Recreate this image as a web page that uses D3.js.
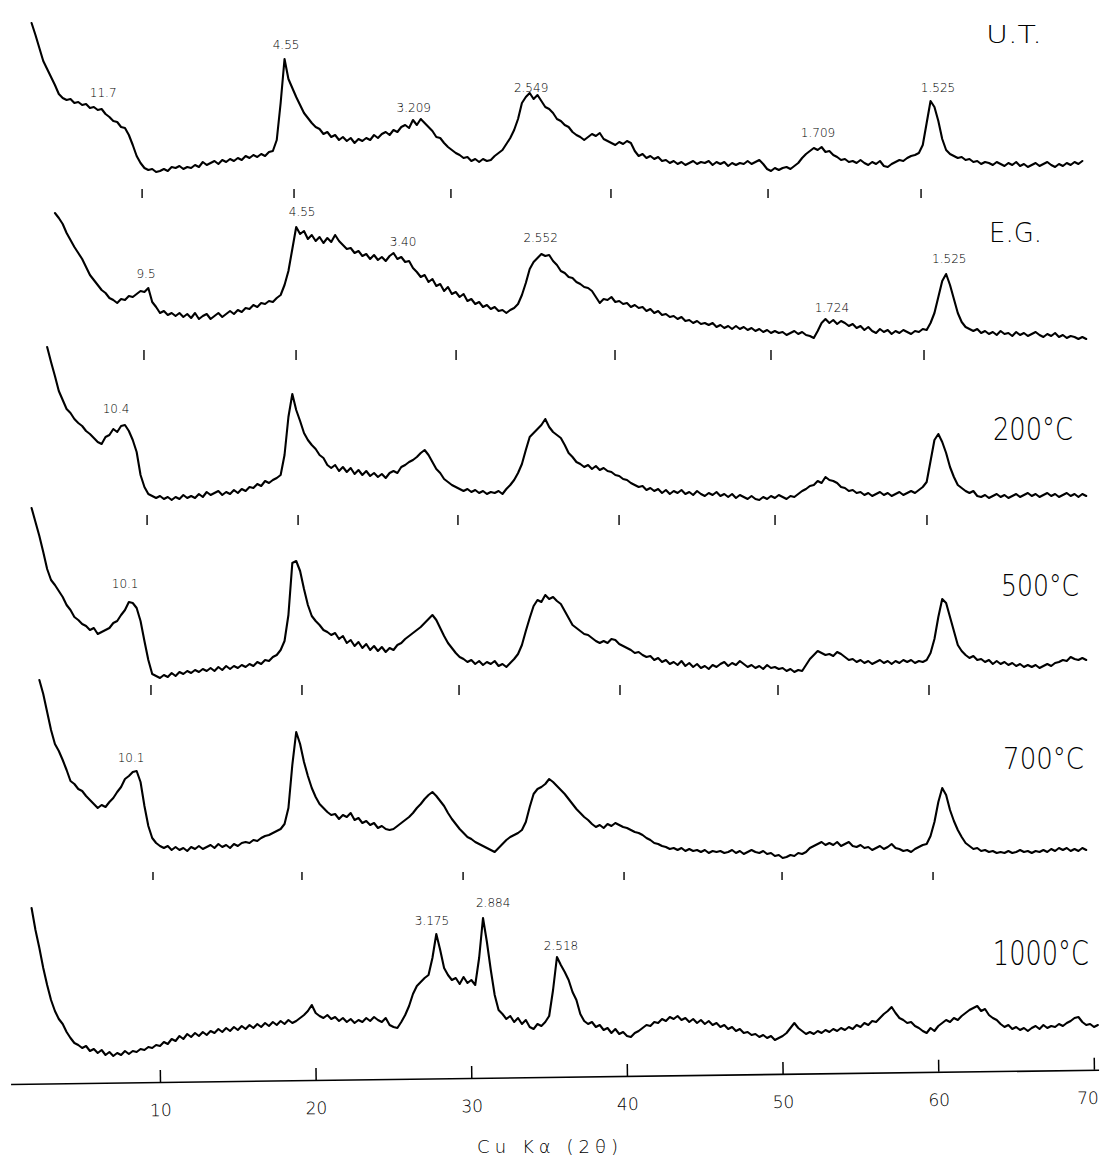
<!DOCTYPE html>
<html><head><meta charset="utf-8">
<script src="https://cdn.jsdelivr.net/npm/d3@7"></script>
<style>body{margin:0;background:#fff}svg{display:block}</style>
</head><body>
<svg id="chart" width="1101" height="1159"></svg>
<script>
// ---------------- DATA ----------------
const seriesNames = ["U.T.", "E.G.", "200°C", "500°C", "700°C", "1000°C"];
const twoThetaStep = 0.25;                       // degrees 2θ between readings
const seriesStart = [1.75, 3.25, 2.75, 1.75, 2.25, 1.75]; // first 2θ of each trace
const seriesOffsets = [905, 735, 575, 407, 220, 40];      // stacking offset (a.u.)

const utValues = [
/*1.75*/142,
/*2*/130,117,104,96, /*3*/88,80,71,67, /*4*/65,66,62,63, /*5*/60,61,57,58,
/*6*/55,56,51,48, /*7*/44,43,38,37, /*8*/30,20,9,2, /*9*/-3,-5,-4,-7,
/*10*/-6,-4,-6,-2, /*11*/-3,-1,-4,-2, /*12*/-3,0,-2,3, /*13*/0,2,4,1,
/*14*/5,3,6,4, /*15*/7,5,9,7, /*16*/10,8,11,9, /*17*/13,14,25,62,
/*18*/106,86,77,68, /*19*/60,52,47,42, /*20*/38,36,31,33, /*21*/28,30,25,28,
/*22*/24,27,22,26, /*23*/24,27,25,30, /*24*/27,31,33,30, /*25*/35,33,38,40,
/*26*/37,45,40,46, /*27*/42,38,34,28, /*28*/27,22,18,15, /*29*/12,10,7,8,
/*30*/4,6,3,6, /*31*/4,5,9,12, /*32*/15,21,27,35, /*33*/46,62,68,72,
/*34*/66,70,64,58, /*35*/56,52,46,44, /*36*/40,38,33,30, /*37*/28,25,28,31,
/*38*/29,32,26,24, /*39*/22,20,23,21, /*40*/24,22,14,9, /*41*/11,7,9,6,
/*42*/8,4,5,2, /*43*/4,1,3,0, /*44*/2,4,1,3, /*45*/2,4,0,3,
/*46*/1,3,-1,2, /*47*/0,2,1,4, /*48*/1,3,5,1, /*49*/-4,-6,-3,-5,
/*50*/-3,-2,-4,-1, /*51*/2,7,11,14, /*52*/17,15,18,13, /*53*/14,10,8,5,
/*54*/6,3,4,2, /*55*/5,2,0,3, /*56*/1,4,-1,-2, /*57*/1,3,5,4,
/*58*/7,9,10,12, /*59*/20,42,64,58, /*60*/44,26,15,11, /*61*/9,7,8,5,
/*62*/6,3,4,1, /*63*/3,2,0,3, /*64*/1,-1,2,0, /*65*/3,-1,1,-2,
/*66*/0,2,-1,1, /*67*/3,0,-2,1, /*68*/-1,2,0,3, /*69*/1,4
];

const egValues = [
/*3.25*/122,117,111,
/*4*/102,95,88,82, /*5*/76,68,60,55, /*6*/50,45,42,37, /*7*/35,32,36,35,
/*8*/39,38,41,44, /*9*/43,47,33,28, /*10*/22,24,20,22, /*11*/19,22,18,21,
/*12*/17,22,16,19, /*13*/21,16,19,22, /*14*/18,21,24,21, /*15*/25,23,27,26,
/*16*/30,28,32,31, /*17*/34,33,37,40, /*18*/50,64,86,108, /*19*/101,104,96,100,
/*20*/94,98,92,97, /*21*/93,100,94,90, /*22*/86,87,82,84, /*23*/79,81,76,80,
/*24*/75,78,74,79, /*25*/82,76,78,73, /*26*/74,67,63,58, /*27*/60,53,56,49,
/*28*/51,44,48,41, /*29*/43,38,41,34, /*30*/36,31,33,28, /*31*/30,26,28,24,
/*32*/25,22,25,27, /*33*/31,40,52,66, /*34*/73,77,81,79, /*35*/80,74,70,64,
/*36*/62,58,57,53, /*37*/51,48,47,44, /*38*/38,32,36,35, /*39*/38,33,34,31,
/*40*/32,28,30,27, /*41*/28,24,26,22, /*42*/24,20,21,18, /*43*/19,16,18,14,
/*44*/15,12,14,11, /*45*/12,10,12,8, /*46*/10,7,9,6, /*47*/9,6,8,5,
/*48*/7,4,6,3, /*49*/5,2,4,2, /*50*/3,0,2,4, /*51*/1,3,0,-1,
/*52*/-3,4,12,16, /*53*/12,15,11,14, /*54*/12,9,11,7, /*55*/9,5,8,4,
/*56*/2,6,3,5, /*57*/1,4,2,5, /*58*/3,1,4,3, /*59*/6,5,12,22,
/*60*/38,54,61,50, /*61*/36,22,13,8, /*62*/6,4,6,2, /*63*/4,1,3,0,
/*64*/4,1,2,-1, /*65*/3,0,2,-1, /*66*/1,3,0,-2, /*67*/1,-1,2,-2,
/*68*/0,-3,-1,-2, /*69*/-4,-2,-4
];

const t200Values = [
/*2.75*/148,
/*3*/133,119,104,95, /*4*/86,82,76,72, /*5*/69,64,61,57, /*6*/53,51,58,60,
/*7*/66,63,69,70, /*8*/64,55,43,20, /*9*/8,1,-1,-3, /*10*/-1,-4,-2,-5,
/*11*/-2,-4,0,-3, /*12*/-1,-3,1,-2, /*13*/3,0,2,4, /*14*/0,3,1,5,
/*15*/2,6,4,8, /*16*/7,11,9,14, /*17*/12,15,17,20, /*18*/40,78,101,85,
/*19*/74,62,55,50, /*20*/46,40,37,30, /*21*/27,30,24,28, /*22*/23,27,21,25,
/*23*/20,24,19,22, /*24*/18,21,17,22, /*25*/24,22,28,30, /*26*/33,35,38,42,
/*27*/45,40,33,26, /*28*/22,16,13,10, /*29*/8,6,4,6, /*30*/3,5,2,4,
/*31*/1,3,2,4, /*32*/1,6,10,15, /*33*/22,31,45,58, /*34*/62,66,70,76,
/*35*/68,63,60,57, /*36*/50,42,38,33, /*37*/31,28,30,26, /*38*/29,25,27,24,
/*39*/23,20,19,16, /*40*/15,12,10,8, /*41*/9,5,7,4, /*42*/6,2,5,1,
/*43*/4,2,5,1, /*44*/3,0,4,1, /*45*/-1,2,0,3, /*46*/-1,1,-2,1,
/*47*/-3,0,-2,-4, /*48*/-1,-4,-5,-2, /*49*/-4,-1,-3,0, /*50*/-2,-4,-1,-2,
/*51*/1,4,6,9, /*52*/10,14,12,18, /*53*/15,14,12,8, /*54*/7,4,5,2,
/*55*/3,0,2,-1, /*56*/1,3,0,2, /*57*/-1,1,3,0, /*58*/2,4,2,5,
/*59*/8,13,34,55, /*60*/61,53,42,28, /*61*/18,10,7,4, /*62*/2,4,-1,-2,
/*63*/0,-3,-1,1, /*64*/-2,0,-3,-1, /*65*/1,-2,0,2, /*66*/-1,1,-2,0,
/*67*/2,-1,1,-2, /*68*/0,2,-1,1, /*69*/-2,1,-1
];

const t500Values = [
/*1.75*/155,
/*2*/141,127,111,94, /*3*/83,78,72,66, /*4*/58,53,46,43, /*5*/39,37,33,35,
/*6*/29,31,33,35, /*7*/40,42,48,53, /*8*/61,60,55,42, /*9*/22,3,-11,-13,
/*10*/-15,-12,-14,-10, /*11*/-13,-9,-11,-8, /*12*/-10,-7,-9,-6, /*13*/-8,-5,-8,-4,
/*14*/-7,-3,-6,-3, /*15*/-5,-2,-4,-1, /*16*/-3,1,-1,3, /*17*/2,6,8,13,
/*18*/22,48,100,102, /*19*/92,74,58,47, /*20*/42,38,33,31, /*21*/28,30,24,27,
/*22*/20,23,17,21, /*23*/15,19,13,17, /*24*/12,16,11,15, /*25*/13,18,20,24,
/*26*/27,30,33,36, /*27*/40,44,48,43, /*28*/35,27,20,15, /*29*/10,6,4,1,
/*30*/3,-1,2,-2, /*31*/1,-1,2,-3, /*32*/-1,-4,0,4, /*33*/9,18,32,45,
/*34*/57,63,61,68, /*35*/64,66,62,59, /*36*/52,45,38,35, /*37*/32,29,28,25,
/*38*/22,20,22,20, /*39*/24,23,19,17, /*40*/15,13,10,11, /*41*/8,6,7,3,
/*42*/5,1,3,-1, /*43*/1,-2,2,-3, /*44*/0,-4,-1,-5, /*45*/-3,-6,-2,-4,
/*46*/-1,1,-3,0, /*47*/-2,2,-1,-4, /*48*/-2,-5,-3,-6, /*49*/-2,-5,-4,-6,
/*50*/-5,-8,-6,-9, /*51*/-7,-8,-2,4, /*52*/8,12,10,8, /*53*/9,7,11,9,
/*54*/6,3,4,1, /*55*/3,0,2,-1, /*56*/1,3,0,2, /*57*/-1,2,0,3,
/*58*/1,3,0,2, /*59*/1,3,10,24, /*60*/46,64,60,46, /*61*/32,18,12,8,
/*62*/5,7,3,4, /*63*/1,3,-1,2, /*64*/-1,1,-2,0, /*65*/-3,-1,-4,-2,
/*66*/-4,-2,-5,-3, /*67*/-1,-3,0,1, /*68*/3,2,6,4, /*69*/3,5,3
];

const t700Values = [
/*2.25*/170,156,138,
/*3*/120,106,99,90, /*4*/80,69,66,61, /*5*/59,54,50,46, /*6*/42,45,43,48,
/*7*/52,58,63,71, /*8*/74,78,79,68, /*9*/44,24,12,7, /*10*/4,2,4,0,
/*11*/3,0,2,-1, /*12*/3,1,4,1, /*13*/3,5,2,6, /*14*/3,5,2,6,
/*15*/4,7,8,7, /*16*/10,9,12,14, /*17*/15,17,19,21, /*18*/26,42,85,118,
/*19*/106,88,74,62, /*20*/53,46,42,38, /*21*/35,36,31,35, /*22*/33,37,30,32,
/*23*/27,29,25,27, /*24*/22,24,21,20, /*25*/21,24,27,30, /*26*/33,37,42,46,
/*27*/51,55,58,54, /*28*/49,44,37,31, /*29*/26,21,17,13, /*30*/11,8,6,4,
/*31*/2,0,-2,2, /*32*/6,10,13,15, /*33*/17,20,28,43, /*34*/56,61,63,66,
/*35*/71,68,64,60, /*36*/56,51,46,41, /*37*/37,33,30,26, /*38*/23,25,22,26,
/*39*/24,27,25,23, /*40*/22,20,18,17, /*41*/15,12,10,7, /*42*/6,4,3,1,
/*43*/2,0,2,-1, /*44*/1,-1,0,-2, /*45*/0,-3,-1,-2, /*46*/-1,-3,-2,0,
/*47*/-3,-1,-4,-2, /*48*/0,-2,-3,-1, /*49*/-4,-3,-6,-5, /*50*/-8,-7,-5,-6,
/*51*/-3,-4,-2,2, /*52*/4,6,8,5, /*53*/7,5,8,4, /*54*/6,8,4,3,
/*55*/5,2,3,0, /*56*/2,4,1,3, /*57*/6,2,1,-1, /*58*/0,-2,1,3,
/*59*/5,6,14,28, /*60*/48,62,55,40, /*61*/29,20,13,7, /*62*/4,1,2,-1,
/*63*/0,-2,-1,-3, /*64*/-2,-3,-1,-3, /*65*/-2,0,-2,-1, /*66*/-3,-1,-2,0,
/*67*/-2,1,-1,2, /*68*/0,2,-1,1, /*69*/-1,2,0
];

const t1000Values = [
/*1.75*/122,
/*2*/100,82,62,45, /*3*/30,19,11,6, /*4*/-2,-8,-13,-15, /*5*/-18,-16,-21,-19,
/*6*/-23,-20,-25,-22, /*7*/-26,-23,-25,-21, /*8*/-24,-21,-22,-19, /*9*/-20,-17,-18,-15,
/*10*/-16,-12,-14,-9, /*11*/-11,-6,-9,-4, /*12*/-7,-3,-6,-2, /*13*/-5,-1,-3,1,
/*14*/-2,2,-1,3, /*15*/0,4,1,5, /*16*/2,6,3,7, /*17*/4,8,5,9,
/*18*/6,10,7,9, /*19*/12,15,19,25, /*20*/17,14,12,15, /*21*/11,13,9,12,
/*22*/8,11,7,10, /*23*/8,12,9,13, /*24*/10,8,12,5, /*25*/3,2,8,15,
/*26*/24,36,44,48, /*27*/52,55,72,96, /*28*/80,62,55,50, /*29*/52,46,53,47,
/*30*/50,45,72,112, /*31*/88,60,35,20, /*32*/16,11,14,8, /*33*/12,6,10,3,
/*34*/1,6,4,8, /*35*/14,40,73,65, /*36*/58,50,38,30, /*37*/16,9,6,8,
/*38*/3,5,0,2, /*39*/-3,1,-4,-2, /*40*/-6,-7,-3,-1, /*41*/2,5,4,8,
/*42*/7,11,9,13, /*43*/11,14,10,12, /*44*/8,11,7,10, /*45*/6,9,5,7,
/*46*/3,5,1,3, /*47*/-1,1,-3,-2, /*48*/-5,-4,-7,-5, /*49*/-8,-6,-10,-8,
/*50*/-6,-3,2,7, /*51*/2,-1,-4,-2, /*52*/-4,-1,-3,0, /*53*/-2,1,-1,2,
/*54*/0,3,1,5, /*55*/3,7,5,9, /*56*/8,12,16,19, /*57*/23,17,12,10,
/*58*/7,8,4,2, /*59*/-1,-3,2,-1, /*60*/4,7,10,8, /*61*/12,10,14,17,
/*62*/20,22,24,19, /*63*/21,15,12,10, /*64*/6,3,5,1, /*65*/3,0,2,-1,
/*66*/2,4,1,5, /*67*/2,4,3,6, /*68*/4,7,9,12, /*69*/13,8,5,6,
/*70*/3,5
];

// chart-recorder marks under each trace (2θ as read on the common axis)
const traceTickMarks = [
  [8.85, 18.61, 28.69, 38.97, 49.06, 58.89],
  [8.97, 18.74, 29.02, 39.23, 49.25, 59.08],
  [9.17, 18.87, 29.14, 39.49, 49.51, 59.27],
  [9.42, 19.12, 29.21, 39.55, 49.70, 59.40],
  [9.55, 19.12, 29.47, 39.81, 49.96, 59.66],
  []
];
const traceTickLevels = [[-24, -33], [-15, -25], [-20, -30], [-22, -32], [-22, -30], [0, 0]];

// d-spacing labels (Å): trace index, text, 2θ, intensity level of label baseline
const peakLabelSeries = [0, 0, 0, 0, 0, 0, 1, 1, 1, 1, 1, 1, 2, 3, 4, 5, 5, 5];
const peakLabelTexts = ["11.7", "4.55", "3.209", "2.549", "1.709", "1.525",
                        "9.5", "4.55", "3.40", "2.552", "1.724", "1.525",
                        "10.4", "10.1", "10.1", "3.175", "2.884", "2.518"];
const peakLabelTheta = [6.35, 18.1, 26.3, 33.84, 52.27, 59.98,
                        9.1, 19.13, 25.61, 34.45, 53.16, 60.7,
                        7.18, 7.76, 8.14, 27.47, 31.4, 35.76];
const peakLabelLevel = [68, 116, 53, 73, 28, 73,
                        57, 119, 89, 93, 23, 72,
                        82, 75, 88, 105, 123, 80];

// series name placement (left 2θ, baseline level), size and drawn width
const seriesLabelTheta = [63.06, 63.26, 63.51, 64.03, 64.16, 63.5];
const seriesLabelLevel = [122, 93, 55, 67, 81, 65];
const seriesLabelSize = [25, 26, 32, 31, 31, 34];
const seriesLabelWidth = [56, 53, 80, 78, 81, 96];

const axisTicks = [10, 20, 30, 40, 50, 60, 70];
const axisTitle = "Cu Kα (2θ)";

// ---------------- CHART ----------------
const svg = d3.select("#chart");
svg.append("rect").attr("width", 1101).attr("height", 1159).attr("fill", "#fff");

const x = d3.scaleLinear().domain([10, 70]).range([160, 1094]);
const y = d3.scaleLinear().domain([0, 1000]).range([1070, 70]);

const allValues = [utValues, egValues, t200Values, t500Values, t700Values, t1000Values];
const series = seriesNames.map((name, k) => ({
  name, start: seriesStart[k], offset: seriesOffsets[k], values: allValues[k],
  ticks: traceTickMarks[k], tickLevel: traceTickLevels[k]
}));

const line = d3.line().x(d => x(d[0])).y(d => y(d[1]));
const FONT = "'DejaVu Sans', 'Liberation Sans', sans-serif";

const traces = svg.append("g");
series.forEach(s => {
  const pts = s.values.map((v, i) => [s.start + i * twoThetaStep, s.offset + v]);
  traces.append("path")
    .attr("d", line(pts))
    .attr("fill", "none")
    .attr("stroke", "#000")
    .attr("stroke-width", 2.1)
    .attr("stroke-linejoin", "round")
    .attr("stroke-linecap", "round");
  traces.selectAll(null).data(s.ticks).enter().append("line")
    .attr("x1", d => x(d)).attr("x2", d => x(d))
    .attr("y1", y(s.offset + s.tickLevel[0]))
    .attr("y2", y(s.offset + s.tickLevel[1]))
    .attr("stroke", "#000").attr("stroke-width", 1.4);
});

// peak labels
svg.append("g").selectAll("text").data(peakLabelTexts).enter().append("text")
  .attr("x", (d, i) => x(peakLabelTheta[i]))
  .attr("y", (d, i) => y(seriesOffsets[peakLabelSeries[i]] + peakLabelLevel[i]))
  .attr("text-anchor", "middle")
  .attr("font-family", FONT)
  .attr("font-stretch", "condensed")
  .attr("font-weight", 300)
  .attr("font-size", 12)
  .attr("fill", "#000")
  .text(d => d);

// series names: scaled horizontally to the width they occupy on the chart
const nameGroups = svg.append("g").selectAll("g").data(seriesNames).enter().append("g")
  .attr("transform", (d, i) => `translate(${x(seriesLabelTheta[i])},${y(seriesOffsets[i] + seriesLabelLevel[i])})`);
nameGroups.append("text")
  .attr("font-family", FONT)
  .attr("font-stretch", "condensed")
  .attr("font-weight", 200)
  .attr("font-size", (d, i) => seriesLabelSize[i])
  .attr("fill", "#000")
  .text(d => d)
  .each(function (d, i) {
    const w = this.getComputedTextLength();
    if (w > 0) d3.select(this).attr("transform", `scale(${seriesLabelWidth[i] / w},1)`);
  });

// bottom axis (slightly tilted, like the recorder chart)
const axisScale = d3.scaleLinear().domain([0.4, 70.3]).range([x(0.4), x(70.3)]);
const axisY = 1084;
const axis = d3.axisBottom(axisScale)
  .tickValues(axisTicks)
  .tickSizeInner(-12)
  .tickSizeOuter(0)
  .tickPadding(22)
  .tickFormat(d3.format("d"));
const gAxis = svg.append("g")
  .attr("transform", `translate(0,${axisY}) rotate(-0.75,${x(0.4)},0)`)
  .call(axis);
gAxis.select(".domain").attr("stroke", "#000").attr("stroke-width", 1.6);
gAxis.selectAll(".tick line").attr("stroke", "#000").attr("stroke-width", 1.5);
gAxis.selectAll(".tick text")
  .attr("font-family", FONT)
  .attr("font-stretch", "condensed")
  .attr("font-weight", 300)
  .attr("font-size", 17)
  .attr("fill", "#000")
  .filter(d => d === axisTicks[axisTicks.length - 1])
  .attr("text-anchor", "end")
  .attr("dx", 4);

svg.append("text")
  .attr("x", x(34.9))
  .attr("y", 1153)
  .attr("text-anchor", "middle")
  .attr("font-family", FONT)
  .attr("font-weight", 300)
  .attr("font-size", 18)
  .attr("textLength", 141)
  .attr("lengthAdjust", "spacing")
  .attr("fill", "#000")
  .text(axisTitle);
</script>
</body></html>
